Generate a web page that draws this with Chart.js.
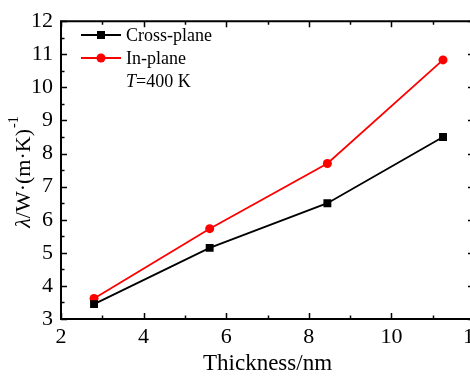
<!DOCTYPE html>
<html><head><meta charset="utf-8">
<script src="https://cdn.jsdelivr.net/npm/chart.js@4/dist/chart.umd.min.js"></script>
<style>html,body{margin:0;padding:0;overflow:hidden;background:#fff;}canvas{display:block;}</style>
</head><body>
<canvas id="c" width="490" height="378"></canvas>
<script>
const thickness = [2.8, 5.6, 8.45, 11.25];
const crossPlane = [3.45, 5.15, 6.5, 8.5];
const inPlane = [3.62, 5.73, 7.7, 10.83];
const seriesNames = ['Cross-plane', 'In-plane'];
const noteText = ['T', '=400 K'];
const xTitle = 'Thickness/nm';
const yTitleParts = ['λ', '/W·(m·K)', '-1'];

const FONT = '"Liberation Serif", "Times New Roman", serif';

function pts(xs, ys){ return xs.map((x,i)=>({x:x,y:ys[i]})); }

const framePlugin = {
  id: 'frame',
  afterDraw(chart){
    const ctx = chart.ctx, a = chart.chartArea;
    const xs = chart.scales.x, ys = chart.scales.y;
    ctx.save();
    ctx.strokeStyle = '#000';
    ctx.lineWidth = 2;
    ctx.beginPath();
    ctx.rect(a.left, a.top, a.right - a.left, a.bottom - a.top);
    ctx.stroke();
    ctx.lineWidth = 1.5;
    ctx.beginPath();
    for (let v = xs.min; v <= xs.max + 1e-9; v += 1) {
      const p = Math.round(xs.getPixelForValue(v)) + 0.5;
      const L = (Math.abs(v % 2) < 1e-9) ? 6 : 3.5;
      ctx.moveTo(p, a.bottom); ctx.lineTo(p, a.bottom - L);
      ctx.moveTo(p, a.top); ctx.lineTo(p, a.top + L);
    }
    for (let v = ys.min; v <= ys.max + 1e-9; v += 0.5) {
      const p = Math.round(ys.getPixelForValue(v)) + 0.5;
      const L = (Math.abs(v % 1) < 1e-9) ? 6 : 3.5;
      ctx.moveTo(a.left, p); ctx.lineTo(a.left + L, p);
      ctx.moveTo(a.right, p); ctx.lineTo(a.right - L, p);
    }
    ctx.stroke();

    // y title
    ctx.fillStyle = '#000';
    ctx.textBaseline = 'middle';
    const fItal = 'italic 22px ' + FONT, fNorm = '22px ' + FONT, fSup = '14px ' + FONT;
    ctx.font = fItal; const w1 = ctx.measureText(yTitleParts[0]).width;
    ctx.font = fNorm; const w2 = ctx.measureText(yTitleParts[1]).width;
    ctx.font = fSup; const w3 = ctx.measureText(yTitleParts[2]).width;
    const total = w1 + w2 + w3 + 1;
    ctx.translate(24, 172);
    ctx.rotate(-Math.PI/2);
    let xx = -total/2;
    ctx.textAlign = 'left';
    ctx.font = fItal; ctx.fillText(yTitleParts[0], xx, 0); xx += w1;
    ctx.font = fNorm; ctx.fillText(yTitleParts[1], xx, 0); xx += w2 + 1;
    ctx.font = fSup; ctx.fillText(yTitleParts[2], xx, -10);
    ctx.restore();

    // legend
    ctx.save();
    const rows = [35, 58];
    chart.data.datasets.forEach((ds, i) => {
      const y = rows[i];
      ctx.strokeStyle = ds.borderColor; ctx.lineWidth = 2;
      ctx.beginPath(); ctx.moveTo(81, y); ctx.lineTo(121, y); ctx.stroke();
      ctx.fillStyle = ds.backgroundColor;
      if (ds.pointStyle === 'rect') { ctx.fillRect(97, y - 4, 8, 8); }
      else { ctx.beginPath(); ctx.arc(101, y, 4.5, 0, Math.PI*2); ctx.fill(); }
      ctx.fillStyle = '#000'; ctx.font = '18px ' + FONT;
      ctx.textAlign = 'left'; ctx.textBaseline = 'middle';
      ctx.fillText(ds.label, 126, y + 1);
    });
    ctx.font = 'italic 18px ' + FONT;
    ctx.fillText(noteText[0], 126, 82);
    const tw = ctx.measureText(noteText[0]).width;
    ctx.font = '18px ' + FONT;
    ctx.fillText(noteText[1], 126 + tw, 82);
    ctx.restore();
  }
};

new Chart(document.getElementById('c'), {
  type: 'line',
  data: {
    datasets: [
      { label: seriesNames[0], data: pts(thickness, crossPlane), borderColor: '#000', backgroundColor: '#000',
        borderWidth: 1.8, pointStyle: 'rect', pointRadius: 5.6, pointBorderWidth: 0, tension: 0 },
      { label: seriesNames[1], data: pts(thickness, inPlane), borderColor: '#ff0000', backgroundColor: '#ff0000',
        borderWidth: 1.8, pointStyle: 'circle', pointRadius: 4.5, pointBorderWidth: 0, tension: 0 }
    ]
  },
  options: {
    responsive: false, animation: false,
    layout: { padding: { top: 14, right: 15.5, left: 0, bottom: 0 } },
    plugins: { legend: { display: false }, tooltip: { enabled: false } },
    scales: {
      x: { type: 'linear', min: 2, max: 12,
        ticks: { stepSize: 2, color: '#000', font: { family: FONT, size: 22 }, padding: 5, maxRotation: 0, autoSkip: false },
        grid: { display: false, drawTicks: false }, border: { display: false },
        title: { display: true, text: xTitle, color: '#000', font: { family: FONT, size: 23 }, padding: { top: 4, bottom: 0 } },
        afterFit(s){ s.height = 59; } },
      y: { type: 'linear', min: 3, max: 12,
        ticks: { stepSize: 1, color: '#000', font: { family: FONT, size: 22 }, padding: 8, autoSkip: false },
        grid: { display: false, drawTicks: false }, border: { display: false },
        afterFit(s){ s.width = 61; } }
    }
  },
  plugins: [framePlugin]
});
</script>
</body></html>
